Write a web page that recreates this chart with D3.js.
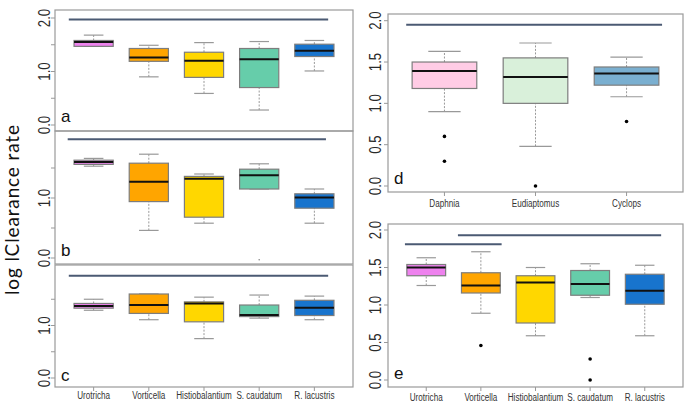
<!DOCTYPE html>
<html><head><meta charset="utf-8">
<script src="https://cdn.jsdelivr.net/npm/d3@7"></script>
<style>body{margin:0;background:#fff}svg{display:block}</style>
</head><body><svg id="c" width="685" height="404"></svg>
<script>
// ---- data: [lower whisker, Q1, median, Q3, upper whisker] ----
const ciliates = ["Urotricha","Vorticella","Histiobalantium","S. caudatum","R. lacustris"];
const ciliateColors = ["#EE82EE","#FFA500","#FFD700","#66CDAA","#1874CD"];
const zooplankton = ["Daphnia","Eudiaptomus","Cyclops"];
const zooColors = ["#FFCCE5","#D9F0DA","#7AAFD0"];

const statsA = [[1.47,1.47,1.55,1.58,1.68],[0.90,1.19,1.26,1.43,1.49],[0.59,0.89,1.20,1.36,1.54],[0.28,0.70,1.23,1.43,1.56],[1.01,1.28,1.39,1.51,1.58]];
const outliersA = [[],[],[],[],[]];
const statsB = [[1.53,1.56,1.60,1.63,1.66],[0.46,0.94,1.27,1.58,1.73],[0.58,0.68,1.32,1.36,1.40],[1.15,1.15,1.38,1.48,1.57],[0.58,0.83,1.01,1.07,1.15]];
const outliersB = [[],[],[],[-0.03],[]];
const statsC = [[1.29,1.33,1.37,1.42,1.50],[1.11,1.23,1.39,1.60,1.60],[0.75,1.07,1.42,1.45,1.54],[1.14,1.17,1.20,1.39,1.58],[1.11,1.19,1.34,1.48,1.56]];
const outliersC = [[],[],[],[],[]];
const statsD = [[0.90,1.18,1.39,1.50,1.63],[0.48,1.00,1.32,1.55,1.73],[1.08,1.22,1.36,1.44,1.56]];
const outliersD = [[0.60,0.30],[0.0],[0.78]];
const statsE = [[1.26,1.39,1.50,1.54,1.63],[0.89,1.16,1.26,1.43,1.71],[0.59,0.76,1.30,1.39,1.50],[1.10,1.13,1.28,1.46,1.55],[0.59,1.01,1.19,1.41,1.53]];
const outliersE = [[],[0.46],[],[0.28,0.0],[]];
// significance bars: [from category position, to category position, level]
const barsA = [[0.55,5.25,1.97]];
const barsB = [[0.53,5.21,1.98]];
const barsC = [[0.55,5.25,1.95]];
const barsD = [[0.58,3.39,1.95]];
const barsE = [[0.61,2.38,1.81],[1.58,5.30,1.93]];
const ticksAll = [0,0.5,1,1.5,2];
const labelsLeftA = [0,1,2];
const labelsLeftBC = [0,1];

const svg = d3.select("#c");

function panel(o){
  const {x0,x1,yTop,yBot,y0,y2,cats,colors,stats,outs,bars,letter,letterY,tickVals,labelVals,showX,xLabY,labX} = o;
  const g = svg.append("g");
  const pad = 0.5 + 0.04*cats.length;
  const xp = d3.scalePoint().domain(cats).range([x0,x1]).padding(pad);
  const step = xp.step();
  const xl = d3.scaleLinear().domain([1,cats.length]).range([xp(cats[0]), xp(cats[cats.length-1])]);
  const y = d3.scaleLinear().domain([0,2]).range([y0,y2]);
  const bw = step*0.71;

  g.selectAll(".yt").data(tickVals).join("line")
    .attr("x1",x0-4).attr("x2",x0).attr("y1",d=>y(d)).attr("y2",d=>y(d))
    .attr("stroke","#999").attr("stroke-width",1);
  g.selectAll(".yl").data(labelVals).join("text")
    .attr("transform",d=>`translate(${labX},${y(d)}) rotate(-90) scale(0.8,1)`)
    .attr("text-anchor","middle").attr("dy","0.36em")
    .attr("font-family","Liberation Sans, Arial, sans-serif").attr("font-size",16.5)
    .attr("fill","#2a2a2a").text(d=>d3.format(".1f")(d));

  g.selectAll(".sb").data(bars).join("line")
    .attr("x1",d=>xl(d[0])).attr("x2",d=>xl(d[1])).attr("y1",d=>y(d[2])).attr("y2",d=>y(d[2]))
    .attr("stroke","#4B5A73").attr("stroke-width",2);

  const bx = g.selectAll(".bx").data(stats).join("g");
  bx.append("line").attr("x1",(d,i)=>xp(cats[i])).attr("x2",(d,i)=>xp(cats[i]))
    .attr("y1",d=>y(d[3])).attr("y2",d=>y(d[4])).attr("stroke","#999").attr("stroke-dasharray","2,1.5");
  bx.append("line").attr("x1",(d,i)=>xp(cats[i])).attr("x2",(d,i)=>xp(cats[i]))
    .attr("y1",d=>y(d[0])).attr("y2",d=>y(d[1])).attr("stroke","#999").attr("stroke-dasharray","2,1.5");
  bx.append("line").attr("x1",(d,i)=>xp(cats[i])-bw/4).attr("x2",(d,i)=>xp(cats[i])+bw/4)
    .attr("y1",d=>y(d[4])).attr("y2",d=>y(d[4])).attr("stroke","#999").attr("stroke-width",1.2);
  bx.append("line").attr("x1",(d,i)=>xp(cats[i])-bw/4).attr("x2",(d,i)=>xp(cats[i])+bw/4)
    .attr("y1",d=>y(d[0])).attr("y2",d=>y(d[0])).attr("stroke","#999").attr("stroke-width",1.2);
  bx.append("rect").attr("x",(d,i)=>xp(cats[i])-bw/2).attr("width",bw)
    .attr("y",d=>y(d[3])).attr("height",d=>Math.max(1,y(d[1])-y(d[3])))
    .attr("fill",(d,i)=>colors[i]).attr("stroke","#7d7d7d").attr("stroke-width",1.2);
  bx.append("line").attr("x1",(d,i)=>xp(cats[i])-bw/2).attr("x2",(d,i)=>xp(cats[i])+bw/2)
    .attr("y1",d=>y(d[2])).attr("y2",d=>y(d[2])).attr("stroke","#111").attr("stroke-width",2);
  outs.forEach((arr,i)=>{
    g.selectAll(null).data(arr).join("circle")
      .attr("cx",xp(cats[i])).attr("cy",d=>y(d)).attr("r",d=>d<0?0.8:1.8)
      .attr("fill",d=>d<0?"#888":"#000");
  });

  g.append("rect").attr("x",x0).attr("y",yTop).attr("width",x1-x0).attr("height",yBot-yTop)
    .attr("fill","none").attr("stroke","#9a9a9a").attr("stroke-width",1.2);

  if(showX){
    g.selectAll(".xt").data(cats).join("line")
      .attr("x1",d=>xp(d)).attr("x2",d=>xp(d)).attr("y1",yBot).attr("y2",yBot+4)
      .attr("stroke","#999");
    g.selectAll(".xlab").data(cats).join("text")
      .attr("transform",d=>`translate(${xp(d)},${xLabY}) scale(0.74,1)`)
      .attr("text-anchor","middle")
      .attr("font-family","Liberation Sans, Arial, sans-serif")
      .attr("font-size",11).attr("fill","#333").text(d=>d);
  }
  g.append("text").attr("x",x0+6).attr("y",letterY)
    .attr("font-family","Liberation Sans, Arial, sans-serif").attr("font-size",17).attr("fill","#111").text(letter);
}

panel({x0:55,x1:353,yTop:10,yBot:131,y0:125,y2:18,cats:ciliates,colors:ciliateColors,stats:statsA,outs:outliersA,bars:barsA,letter:"a",letterY:122,tickVals:ticksAll,labelVals:labelsLeftA,showX:false,labX:44});
panel({x0:55,x1:353,yTop:131,yBot:264,y0:258,y2:138,cats:ciliates,colors:ciliateColors,stats:statsB,outs:outliersB,bars:barsB,letter:"b",letterY:256,tickVals:[0,0.5,1,1.5],labelVals:labelsLeftBC,showX:false,labX:44});
panel({x0:55,x1:353,yTop:265,yBot:387,y0:378,y2:273,cats:ciliates,colors:ciliateColors,stats:statsC,outs:outliersC,bars:barsC,letter:"c",letterY:381,tickVals:[0,0.5,1,1.5],labelVals:labelsLeftBC,showX:true,xLabY:399,labX:44});
panel({x0:388,x1:683,yTop:14,yBot:192,y0:186,y2:20.7,cats:zooplankton,colors:zooColors,stats:statsD,outs:outliersD,bars:barsD,letter:"d",letterY:184,tickVals:ticksAll,labelVals:ticksAll,showX:true,xLabY:207,labX:375});
panel({x0:388,x1:683,yTop:224,yBot:387,y0:380,y2:230,cats:ciliates,colors:ciliateColors,stats:statsE,outs:outliersE,bars:barsE,letter:"e",letterY:379,tickVals:ticksAll,labelVals:ticksAll,showX:true,xLabY:401,labX:375});

svg.append("text").attr("transform","translate(19,210) rotate(-90)")
  .attr("text-anchor","middle").attr("font-family","Lato, Open Sans, sans-serif")
  .attr("font-size",19).attr("textLength",170).attr("lengthAdjust","spacing")
  .attr("fill","#111").text("log lClearance rate");
</script></body></html>
